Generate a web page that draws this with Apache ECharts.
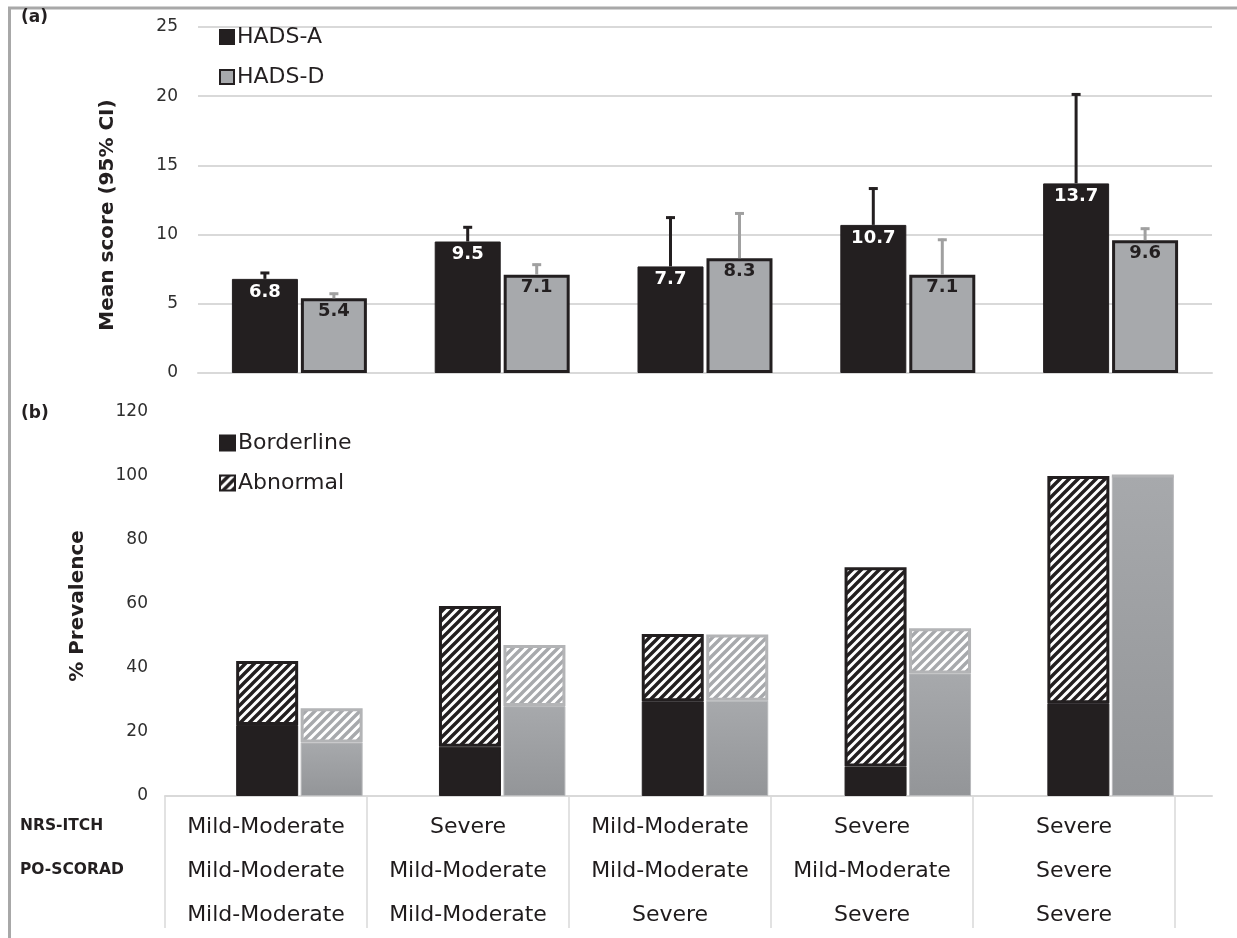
<!DOCTYPE html>
<html>
<head>
<meta charset="utf-8">
<script src="https://cdn.jsdelivr.net/npm/echarts@6/dist/echarts.min.js"></script>
<style>
html,body{margin:0;padding:0;background:#fff;}
#chart{width:1237px;height:938px;}
</style>
</head>
<body>
<div id="chart"></div>
<script>
// ---- data ----
const categories = ['G1', 'G2', 'G3', 'G4', 'G5'];
const hadsAMean = [6.8, 9.5, 7.7, 10.7, 13.7];
const hadsDMean = [5.4, 7.1, 8.3, 7.1, 9.6];
const hadsAUpper = [7.3, 10.6, 11.3, 13.4, 20.2];
const hadsDUpper = [5.8, 7.9, 11.6, 9.7, 10.5];
const aBorderline = [22.2, 15.4, 29.6, 9.2, 29.0];
const aAbnormal = [20.0, 44.0, 21.0, 62.3, 71.0];
const dBorderline = [16.7, 28.1, 29.8, 38.3, 100];
const dAbnormal = [10.7, 19.1, 20.7, 14.1, 0];
const rowLabels = ['NRS-ITCH', 'PO-SCORAD', ''];
const nrsItch = ['Mild-Moderate', 'Severe', 'Mild-Moderate', 'Severe', 'Severe'];
const poScorad = ['Mild-Moderate', 'Mild-Moderate', 'Mild-Moderate', 'Mild-Moderate', 'Severe'];
const row3 = ['Mild-Moderate', 'Mild-Moderate', 'Severe', 'Severe', 'Severe'];
const topTicks = [0, 5, 10, 15, 20, 25];
const bottomTicks = [0, 20, 40, 60, 80, 100, 120];

// ---- styles ----
const FONT = 'DejaVu Sans';
const BLACK = '#231f20';
const GRAY = '#a7a9ac';
const GRAY2 = '#939598';
const GRID = '#d9d9d9';

function hatch(fg, bg, size, lw) {
  const c = document.createElement('canvas');
  c.width = size; c.height = size;
  const ctx = c.getContext('2d');
  ctx.fillStyle = bg; ctx.fillRect(0, 0, size, size);
  ctx.strokeStyle = fg; ctx.lineWidth = lw; ctx.lineCap = 'square';
  ctx.beginPath();
  for (const k of [-size, 0, size]) {
    ctx.moveTo(k, size); ctx.lineTo(k + size, 0);
  }
  ctx.stroke();
  return c;
}
const hatchBlack = { image: hatch(BLACK, '#ffffff', 9, 3.4), repeat: 'repeat' };
const hatchGray = { image: hatch(GRAY, '#ffffff', 9, 3.4), repeat: 'repeat' };
const grayGrad = { type: 'linear', x: 0, y: 0, x2: 0, y2: 1, colorStops: [{ offset: 0, color: GRAY }, { offset: 1, color: GRAY2 }] };

const BAR_W_TOP = 66;
const BAR_GAP_TOP = 3;

function errorSeries(name, means, uppers, color, sign) {
  return {
    type: 'custom', name: name, xAxisIndex: 0, yAxisIndex: 0, z: 5,
    data: means.map((m, i) => [i, m, uppers[i]]),
    renderItem: function (params, api) {
      const off = sign * (BAR_W_TOP + BAR_GAP_TOP) / 2;
      const p0 = api.coord([api.value(0), api.value(1)]);
      const p1 = api.coord([api.value(0), api.value(2)]);
      const x = p0[0] + off;
      return {
        type: 'group',
        children: [
          { type: 'line', shape: { x1: x, y1: p0[1], x2: x, y2: p1[1] }, style: { stroke: color, lineWidth: 3 } },
          { type: 'line', shape: { x1: x - 4.5, y1: p1[1] + 1, x2: x + 4.5, y2: p1[1] + 1 }, style: { stroke: color, lineWidth: 3 } }
        ]
      };
    },
    silent: true
  };
}

const tableData = [];
[nrsItch, poScorad, row3].forEach((row, r) => row.forEach((t, c) => tableData.push([c, r, t])));

const chart = echarts.init(document.getElementById('chart'), null, { renderer: 'canvas' });
chart.setOption({
  backgroundColor: '#fff',
  animation: false,
  textStyle: { fontFamily: FONT },
  grid: [
    { left: 198, right: 25, top: 27, height: 346 },
    { left: 198, right: 25, top: 412, height: 384 },
    { left: 165, right: 62, top: 796, height: 132 }
  ],
  legend: [
    {
      data: ['HADS-A', 'HADS-D'], orient: 'vertical', left: 214, top: 21, itemGap: 18,
      itemWidth: 14, itemHeight: 14, icon: 'rect',
      textStyle: { fontFamily: FONT, fontSize: 22, color: BLACK, padding: [0, 0, 0, -2] }
    },
    {
      data: ['Borderline', 'Abnormal'], orient: 'vertical', left: 214, top: 427, itemGap: 18,
      itemWidth: 15, itemHeight: 15, icon: 'rect',
      textStyle: { fontFamily: FONT, fontSize: 22, color: BLACK, padding: [0, 0, 0, -2] }
    }
  ],
  xAxis: [
    { type: 'category', gridIndex: 0, data: categories, axisLine: { lineStyle: { color: GRID, width: 2 } }, axisTick: { show: false }, axisLabel: { show: false } },
    { type: 'category', gridIndex: 1, data: categories, axisLine: { lineStyle: { color: GRID, width: 2 } }, axisTick: { show: false }, axisLabel: { show: false } },
    { type: 'category', gridIndex: 2, data: categories, position: 'top', axisLine: { show: true, lineStyle: { color: GRID, width: 2 } }, axisTick: { show: false }, axisLabel: { show: false },
      splitLine: { show: true, lineStyle: { color: GRID, width: 1.5 } } }
  ],
  yAxis: [
    { type: 'value', gridIndex: 0, min: topTicks[0], max: topTicks[topTicks.length - 1], interval: 5,
      name: 'Mean score (95% CI)', nameLocation: 'middle', nameGap: 80,
      nameTextStyle: { fontFamily: FONT, fontWeight: 'bold', fontSize: 20, color: BLACK, padding: [0, 30, 0, 0] },
      axisLine: { show: false }, axisTick: { show: false },
      axisLabel: { margin: 20, fontFamily: FONT, fontSize: 17, color: '#2e2e2e' },
      splitLine: { lineStyle: { color: GRID, width: 2 } } },
    { type: 'value', gridIndex: 1, min: bottomTicks[0], max: bottomTicks[bottomTicks.length - 1], interval: 20,
      name: '% Prevalence', nameLocation: 'middle', nameGap: 110,
      nameTextStyle: { fontFamily: FONT, fontWeight: 'bold', fontSize: 20, color: BLACK, padding: [0, 4, 0, 0] },
      axisLine: { show: false }, axisTick: { show: false },
      axisLabel: { margin: 50, fontFamily: FONT, fontSize: 17, color: '#2e2e2e' },
      splitLine: { show: false } },
    { type: 'category', gridIndex: 2, data: rowLabels, inverse: true,
      axisLine: { show: false }, axisTick: { show: false }, splitLine: { show: false },
      axisLabel: { margin: 145, align: 'left', verticalAlign: 'top', fontFamily: FONT, fontWeight: 'bold', fontSize: 15.5, color: BLACK } }
  ],
  series: [
    { name: 'HADS-A', type: 'bar', xAxisIndex: 0, yAxisIndex: 0, data: hadsAMean, barWidth: BAR_W_TOP, barGap: '4.5%',
      itemStyle: { color: BLACK, borderColor: BLACK, borderWidth: 1 },
      label: { show: true, position: 'insideTop', distance: 4, color: '#fff', fontFamily: FONT, fontWeight: 'bold', fontSize: 18, formatter: p => p.value.toFixed(1) } },
    { name: 'HADS-D', type: 'bar', xAxisIndex: 0, yAxisIndex: 0, data: hadsDMean, barWidth: BAR_W_TOP,
      itemStyle: { color: GRAY, borderColor: BLACK, borderWidth: 3 },
      label: { show: true, position: 'insideTop', distance: 4, color: BLACK, fontFamily: FONT, fontWeight: 'bold', fontSize: 18, formatter: p => p.value.toFixed(1) } },
    errorSeries('HADS-A CI', hadsAMean, hadsAUpper, BLACK, -1),
    errorSeries('HADS-D CI', hadsDMean, hadsDUpper, '#a0a0a0', 1),

    { name: 'Borderline', type: 'bar', xAxisIndex: 1, yAxisIndex: 1, stack: 'A', data: aBorderline, barWidth: 62, barGap: '4%',
      itemStyle: { color: BLACK, borderColor: BLACK, borderWidth: 1 } },
    { name: 'Abnormal', type: 'bar', xAxisIndex: 1, yAxisIndex: 1, stack: 'A', data: aAbnormal, barWidth: 62,
      itemStyle: { color: hatchBlack, borderColor: BLACK, borderWidth: 3 } },
    { name: 'HADS-D Borderline', type: 'bar', xAxisIndex: 1, yAxisIndex: 1, stack: 'D', data: dBorderline, barWidth: 62,
      itemStyle: { color: grayGrad, borderColor: '#b8b9bb', borderWidth: 1 } },
    { name: 'HADS-D Abnormal', type: 'bar', xAxisIndex: 1, yAxisIndex: 1, stack: 'D', data: dAbnormal, barWidth: 62,
      itemStyle: { color: hatchGray, borderColor: '#b3b4b6', borderWidth: 3 } },

    { name: 'table', type: 'scatter', xAxisIndex: 2, yAxisIndex: 2, data: tableData, symbolSize: 0.01, silent: true,
      itemStyle: { opacity: 1 },
      label: { show: true, position: 'inside', offset: [0, 9], formatter: p => p.value[2], fontFamily: FONT, fontSize: 22, color: '#1f1b1c', opacity: 1 } }
  ],
  graphic: [
    { type: 'line', shape: { x1: 9.5, y1: 8, x2: 9.5, y2: 938 }, style: { stroke: '#a8a8a8', lineWidth: 3 } },
    { type: 'line', shape: { x1: 8, y1: 8, x2: 1237, y2: 8 }, style: { stroke: '#a8a8a8', lineWidth: 3 } },
    { type: 'text', left: 21, top: 9, style: { text: '(a)', font: 'bold 17px "DejaVu Sans"', fill: BLACK } },
    { type: 'text', left: 21, top: 405, style: { text: '(b)', font: 'bold 17px "DejaVu Sans"', fill: BLACK } }
  ]
});
</script>
</body>
</html>
